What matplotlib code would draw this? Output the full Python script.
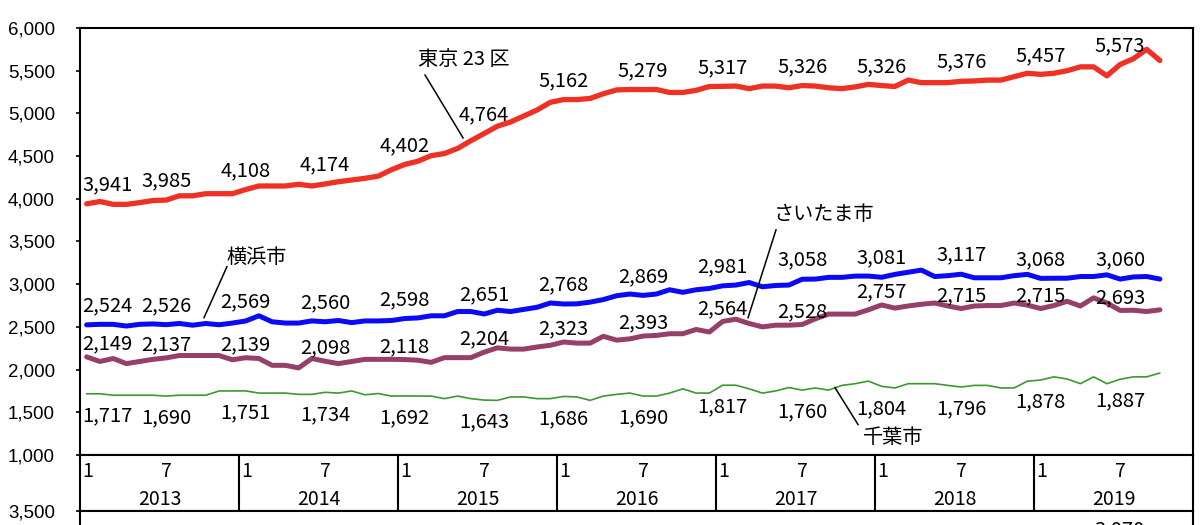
import matplotlib
matplotlib.use("Agg")
import matplotlib.pyplot as plt

plt.rcParams['font.family'] = ['Noto Sans CJK JP', 'DejaVu Sans']

# monthly data, Jan 2013 - Oct 2019
years = [2013, 2014, 2015, 2016, 2017, 2018, 2019]
n_slots = 84

tokyo = [3941, 3968, 3935, 3935, 3955, 3980, 3985, 4035, 4035, 4060, 4060, 4060,
         4108, 4150, 4150, 4150, 4170, 4150, 4174, 4200, 4220, 4240, 4265, 4340,
         4402, 4440, 4505, 4530, 4590, 4680, 4764, 4850, 4900, 4970, 5040, 5130,
         5162, 5162, 5175, 5230, 5275, 5280, 5279, 5280, 5245, 5245, 5270, 5315,
         5317, 5320, 5290, 5320, 5320, 5300, 5326, 5320, 5300, 5290, 5310, 5340,
         5326, 5315, 5390, 5360, 5360, 5360, 5376, 5380, 5390, 5390, 5430, 5470,
         5457, 5470, 5500, 5545, 5545, 5440, 5573, 5640, 5750, 5620]
yokohama = [2524, 2530, 2530, 2510, 2530, 2535, 2526, 2540, 2520, 2540, 2525, 2545,
            2569, 2630, 2560, 2545, 2545, 2570, 2560, 2575, 2550, 2570, 2570, 2575,
            2598, 2605, 2630, 2630, 2680, 2680, 2651, 2695, 2680, 2705, 2730, 2780,
            2768, 2770, 2790, 2820, 2865, 2885, 2869, 2885, 2935, 2905, 2935, 2950,
            2981, 2990, 3020, 2970, 2985, 2990, 3058, 3060, 3080, 3080, 3095, 3095,
            3081, 3115, 3140, 3165, 3090, 3100, 3117, 3075, 3075, 3075, 3100, 3115,
            3068, 3070, 3070, 3090, 3090, 3110, 3060, 3085, 3090, 3060]
saitama = [2149, 2095, 2130, 2070, 2095, 2120, 2137, 2165, 2165, 2165, 2165, 2115,
           2139, 2130, 2050, 2050, 2020, 2130, 2098, 2070, 2095, 2120, 2120, 2120,
           2118, 2110, 2085, 2140, 2140, 2140, 2204, 2255, 2240, 2240, 2265, 2285,
           2323, 2310, 2310, 2390, 2345, 2360, 2393, 2400, 2420, 2420, 2470, 2440,
           2564, 2590, 2540, 2500, 2520, 2520, 2528, 2595, 2650, 2650, 2650, 2700,
           2757, 2720, 2745, 2765, 2780, 2745, 2715, 2745, 2750, 2750, 2780, 2755,
           2715, 2750, 2800, 2745, 2840, 2780, 2693, 2695, 2680, 2700]
chiba = [1717, 1717, 1700, 1700, 1700, 1700, 1690, 1700, 1700, 1700, 1750, 1750,
         1751, 1725, 1725, 1725, 1710, 1710, 1734, 1725, 1750, 1705, 1720, 1690,
         1692, 1690, 1690, 1660, 1690, 1660, 1643, 1640, 1680, 1680, 1660, 1660,
         1686, 1680, 1640, 1690, 1710, 1725, 1690, 1690, 1725, 1775, 1725, 1725,
         1817, 1817, 1775, 1725, 1750, 1790, 1760, 1785, 1760, 1815, 1835, 1865,
         1804, 1785, 1835, 1835, 1835, 1815, 1796, 1815, 1815, 1785, 1785, 1865,
         1878, 1915, 1890, 1835, 1915, 1835, 1887, 1915, 1915, 1960]

# January and July of each year get a value label
label_idx = list(range(0, len(tokyo), 6))

W, H = 1200, 525


def box(x0, y0, x1, y1):
    return [x0 / W, 1 - y1 / H, (x1 - x0) / W, (y1 - y0) / H]


fig = plt.figure(figsize=(12, 5.25), dpi=100)
ax = fig.add_axes(box(80, 28, 1193, 455))
tax = fig.add_axes(box(80, 455, 1193, 511))
bax = fig.add_axes(box(80, 511, 1193, 1000))

x = [i + 0.5 for i in range(len(tokyo))]

series = [
    (chiba, "#3a9a2e", 1.2, 22),
    (saitama, "#953f6a", 3.6, -13),
    (yokohama, "#0a0af5", 3.6, -19),
    (tokyo, "#ee3124", 3.8, -19),
]
for vals, color, lw, dy in series:
    ax.plot(x, vals, color=color, linewidth=lw, solid_capstyle="round",
            solid_joinstyle="round")
    for k, i in enumerate(label_idx):
        dx, ha = (-4, "left") if k == 0 else (0, "center")
        ax.annotate(f"{vals[i]:,}", (x[i], vals[i]), xytext=(dx, -dy),
                    textcoords="offset pixels", ha=ha, va="center",
                    fontsize=14.5)

# series names with leader lines
names = [
    ("東京 23 区", (28.98, 5626), [(26.04, 5450), (28.91, 4713)]),
    ("横浜市", (13.36, 3310), [(11.09, 3205), (9.36, 2608)]),
    ("さいたま市", (56.15, 3813), [(52.53, 3637), (50.42, 2608)]),
    ("千葉市", (61.36, 1205), [(56.98, 1789), (58.72, 1357)]),
]
for text, pos, line in names:
    ax.text(pos[0], pos[1], text, ha="center", va="center", fontsize=14.5)
    ax.plot([p[0] for p in line], [p[1] for p in line], color="black",
            linewidth=1.1)

ax.set_xlim(0, n_slots)
ax.set_ylim(1000, 6000)
yt = list(range(1000, 6001, 500))
ax.set_yticks(yt, labels=[f"{v:,}" for v in yt], fontfamily="Liberation Sans",
              fontsize=13.5)
ax.set_xticks([])
ax.tick_params(axis="y", direction="out", length=3, width=1.2, pad=15)
for s in ax.spines.values():
    s.set_linewidth(1.5)

# month / year table under the axis
tax.set_xlim(0, n_slots)
tax.set_ylim(0, 1)
tax.set_xticks([])
tax.set_yticks([])
for s in tax.spines.values():
    s.set_linewidth(1.5)
for k, yr in enumerate(years):
    start = 12 * k
    if k > 0:
        tax.axvline(start, color="black", linewidth=1.5)
    tax.text(start + 0.6, 0.71, "1", ha="center", va="center", fontsize=14)
    tax.text(start + 6.5, 0.71, "7", ha="center", va="center", fontsize=14)
    tax.text(start + 6.0, 0.2, str(yr), ha="center", va="center", fontsize=14)

# next chart, cut off by the page edge
bax.set_xlim(0, n_slots)
bax.set_ylim(0, 3500)
bax.set_xticks([])
bax.set_yticks([3500], labels=["3,500"], fontfamily="Liberation Sans",
               fontsize=13.5)
bax.tick_params(axis="y", direction="out", length=3, width=1.2, pad=15)
for s in bax.spines.values():
    s.set_linewidth(1.5)
fig.text(1120 / W, 1 - 519 / H, "3,070", ha="center", va="top", fontsize=14.5)

fig.savefig("out.png", dpi=100)
